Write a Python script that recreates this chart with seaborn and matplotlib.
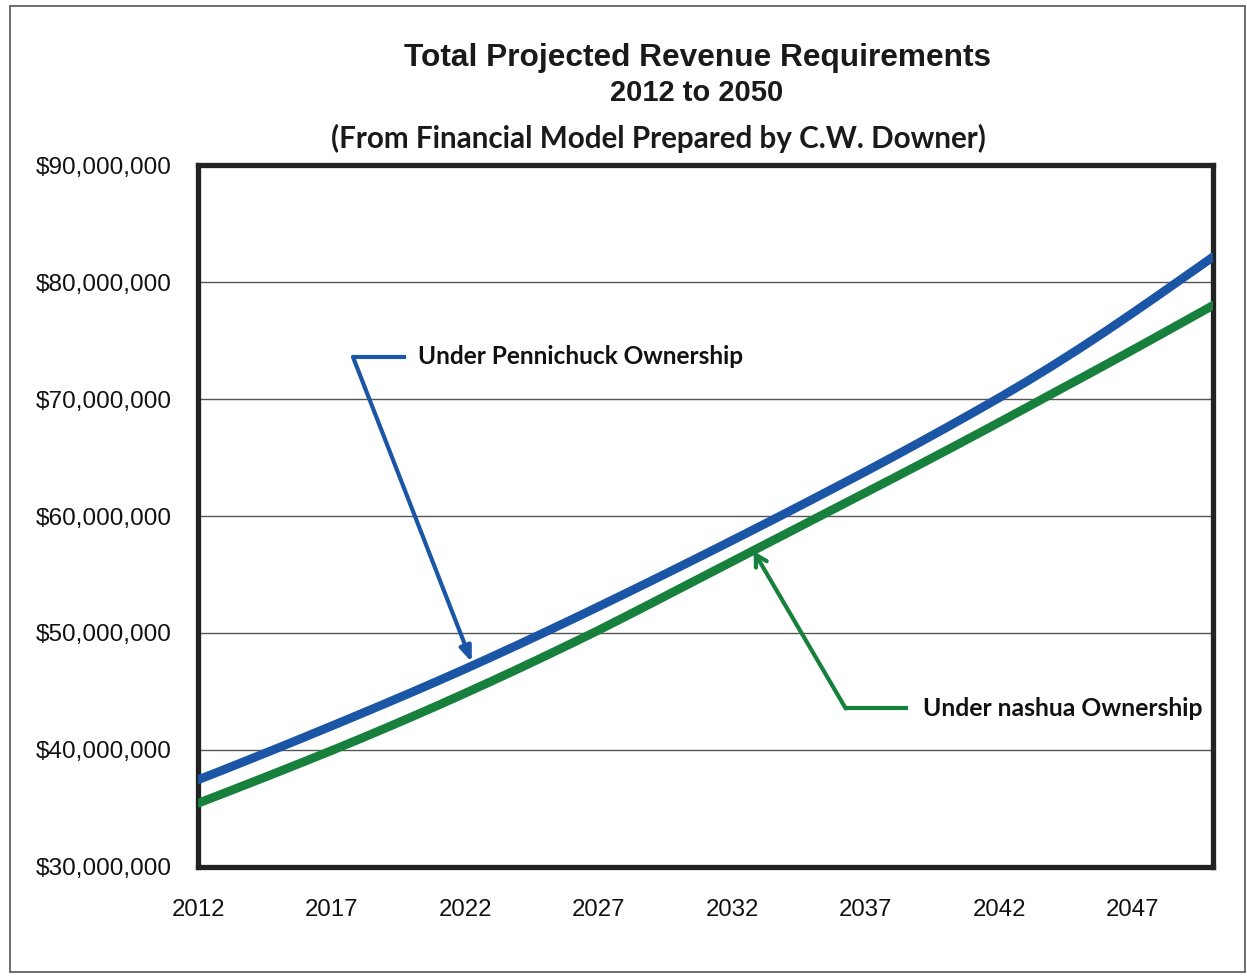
import matplotlib
matplotlib.use("Agg")
import matplotlib.pyplot as plt
import matplotlib.patches as mpatches
import seaborn as sns
import pandas as pd
import numpy as np

# ---- data ----
years = list(range(2012, 2051))
pennichuck = [37.45, 38.35, 39.26, 40.18, 41.11, 42.05, 43.00, 43.96, 44.93, 45.92,
              46.93, 47.96, 49.01, 50.08, 51.16, 52.26, 53.37, 54.49, 55.62, 56.76,
              57.91, 59.07, 60.24, 61.42, 62.61, 63.81, 65.03, 66.27, 67.53, 68.81,
              70.11, 71.46, 72.86, 74.31, 75.81, 77.36, 78.94, 80.54, 82.14]
nashua = [35.45, 36.33, 37.22, 38.12, 39.03, 39.95, 40.89, 41.85, 42.83, 43.83,
          44.85, 45.89, 46.95, 48.03, 49.13, 50.24, 51.40, 52.57, 53.75, 54.93,
          56.11, 57.29, 58.47, 59.65, 60.83, 62.01, 63.19, 64.38, 65.58, 66.79,
          68.01, 69.24, 70.48, 71.71, 72.95, 74.20, 75.46, 76.73, 78.00]
series_names = ["Under Pennichuck Ownership", "Under nashua Ownership"]
x_ticks = [2012, 2017, 2022, 2027, 2032, 2037, 2042, 2047]
y_ticks = [30e6, 40e6, 50e6, 60e6, 70e6, 80e6, 90e6]
y_tick_labels = ["$30,000,000", "$40,000,000", "$50,000,000", "$60,000,000",
                 "$70,000,000", "$80,000,000", "$90,000,000"]
title_line1 = "Total Projected Revenue Requirements"
title_line2 = "2012 to 2050"
subtitle = "(From Financial Model Prepared by C.W. Downer)"

BLUE = "#1b55a5"
GREEN = "#16803c"

df = pd.DataFrame({
    "Year": years * 2,
    "Revenue": [v * 1e6 for v in pennichuck] + [v * 1e6 for v in nashua],
    "Series": [series_names[0]] * len(years) + [series_names[1]] * len(years),
})

sns.set_style("white")
plt.rcParams["font.family"] = ["Liberation Sans", "DejaVu Sans"]

fig = plt.figure(figsize=(12.47, 9.77), dpi=100)
ax = fig.add_axes([0.1588, 0.1126, 0.9727 - 0.1588, 0.8311 - 0.1126])

sns.lineplot(data=df, x="Year", y="Revenue", hue="Series",
             palette={series_names[0]: BLUE, series_names[1]: GREEN},
             linewidth=6.3, legend=False, ax=ax, zorder=3)

ax.set_xlim(2012, 2050)
ax.set_ylim(30e6, 90e6)
ax.set_xticks(x_ticks)
ax.set_xticklabels([str(t) for t in x_ticks], fontsize=17.3)
ax.set_yticks(y_ticks)
ax.set_yticklabels(y_tick_labels, fontsize=17.6)
ax.set_xlabel("")
ax.set_ylabel("")
ax.yaxis.grid(True, color="#555555", linewidth=1.0)
ax.xaxis.grid(False)
ax.tick_params(axis="both", direction="out", length=5, width=1, color="#444444",
               pad=14, labelcolor="#111111")
ax.tick_params(axis="x", pad=18)
for s in ax.spines.values():
    s.set_linewidth(3.8)
    s.set_color("#222222")
    s.set_visible(True)

# ---- annotations (callouts) ----
ann_font = ["Lato", "DejaVu Sans"]
# Pennichuck callout
ax.plot([2017.8, 2019.8], [73.6e6, 73.6e6], color=BLUE, lw=3, solid_capstyle="butt",
        zorder=4)
ax.annotate("", xy=(2022.25, 47.5e6), xytext=(2017.8, 73.6e6),
            arrowprops=dict(arrowstyle="-|>,head_length=0.9,head_width=0.35",
                            color=BLUE, lw=3, shrinkA=0, shrinkB=0), zorder=4)
ax.text(2020.25, 73.6e6, series_names[0], fontsize=17.6, fontweight="bold",
        family=ann_font, va="center", ha="left", color="#111111")
# Nashua callout
ax.plot([2036.25, 2038.6], [43.55e6, 43.55e6], color=GREEN, lw=3, solid_capstyle="butt",
        zorder=4)
ax.annotate("", xy=(2032.8, 57.0e6), xytext=(2036.25, 43.55e6),
            arrowprops=dict(arrowstyle="->,head_length=0.8,head_width=0.45",
                            color=GREEN, lw=3, shrinkA=0, shrinkB=0), zorder=4)
ax.text(2039.15, 43.55e6, series_names[1], fontsize=17.8, fontweight="bold",
        family=ann_font, va="center", ha="left", color="#111111")

# ---- titles ----
fig.text(0.559, 1 - 58 / 977, title_line1, fontsize=22.8, fontweight="bold",
         family=["Liberation Sans"], ha="center", va="center",
         color="#1a1a1a")
fig.text(0.559, 1 - 93 / 977, title_line2, fontsize=21, fontweight="bold",
         family=["Liberation Sans"], ha="center", va="center",
         color="#1a1a1a")
fig.text(0.5277, 1 - 138 / 977, subtitle, fontsize=21.3, fontweight="bold",
         family=ann_font, ha="center", va="center", color="#1a1a1a")

# outer chart border
fig.patches.append(mpatches.Rectangle((10 / 1247, 5 / 977), 1 - 12 / 1247, 1 - 11 / 977,
                                      transform=fig.transFigure, fill=False,
                                      edgecolor="#555555", linewidth=1.2))

fig.savefig("out.png", dpi=100, facecolor="white")
